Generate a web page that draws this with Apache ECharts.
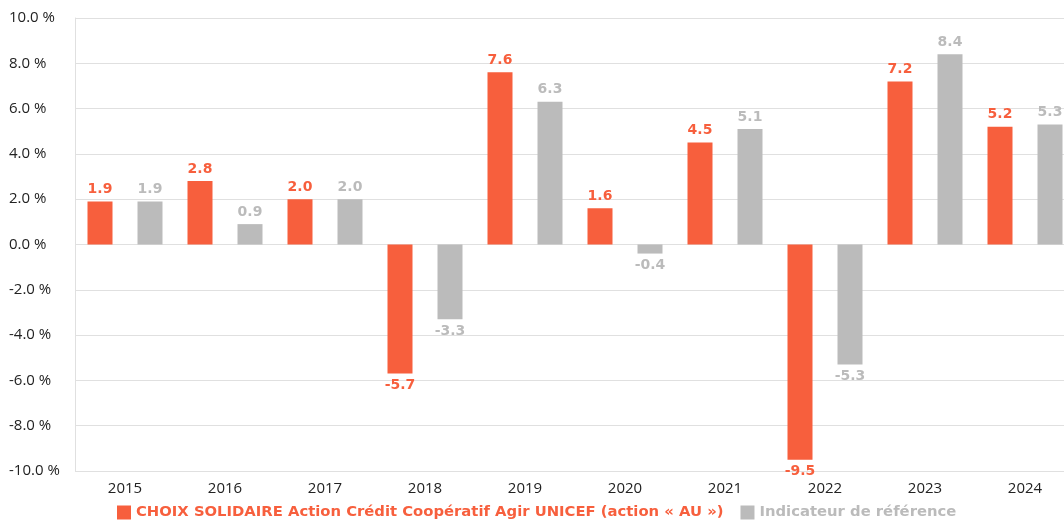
<!DOCTYPE html>
<html>
<head>
<meta charset="utf-8">
<script src="https://cdn.jsdelivr.net/npm/echarts@6/dist/echarts.min.js"></script>
<style>
  html, body { margin: 0; padding: 0; background: #fff; overflow: hidden; }
  #chart { width: 1075px; height: 521px; }
</style>
</head>
<body>
<div id="chart"></div>
<script>
const YEARS = ['2015', '2016', '2017', '2018', '2019', '2020', '2021', '2022', '2023', '2024'];
const FUND = [1.9, 2.8, 2.0, -5.7, 7.6, 1.6, 4.5, -9.5, 7.2, 5.2];
const INDEX = [1.9, 0.9, 2.0, -3.3, 6.3, -0.4, 5.1, -5.3, 8.4, 5.3];
const FUND_NAME = 'CHOIX SOLIDAIRE Action Crédit Coopératif Agir UNICEF (action « AU »)';
const INDEX_NAME = 'Indicateur de référence';

const ORANGE = '#f75f3d';
const GREY = '#bbbbbb';
const BOLD_FONT = 'DejaVu Sans';

// chart is a bit wider than the window: the last category is cut off on the right
const chart = echarts.init(document.getElementById('chart'));

function barSeries(name, data, color) {
  return {
    name: name,
    type: 'bar',
    data: data,
    barWidth: 25,
    barGap: '100%',
    itemStyle: { color: color },
    label: {
      show: true,
      position: 'outside',
      distance: 5,
      color: color,
      fontFamily: BOLD_FONT,
      fontWeight: 'bold',
      fontSize: 14,
      formatter: function (p) { return p.value.toFixed(1); }
    }
  };
}

const option = {
  animation: false,
  grid: { left: 75, top: 18, right: 0, bottom: 50, containLabel: false },
  legend: {
    bottom: -4,
    left: 112,
    itemWidth: 14,
    itemHeight: 14,
    itemGap: 17,
    icon: 'rect',
    textStyle: { fontFamily: BOLD_FONT, fontWeight: 'bold', fontSize: 14.8 },
    data: [
      { name: FUND_NAME, textStyle: { color: ORANGE } },
      { name: INDEX_NAME, textStyle: { color: GREY } }
    ]
  },
  xAxis: {
    type: 'category',
    data: YEARS,
    axisLine: { show: false, onZero: false },
    axisTick: { show: false },
    axisLabel: { color: '#222', fontFamily: 'Open Sans', fontSize: 15, margin: 10 }
  },
  yAxis: {
    type: 'value',
    min: -10,
    max: 10,
    interval: 2,
    axisLine: { show: true, lineStyle: { color: '#e0e0e0', width: 1 } },
    axisTick: { show: false },
    splitLine: { lineStyle: { color: '#e0e0e0', width: 1 } },
    axisLabel: {
      color: '#222',
      fontFamily: 'Open Sans',
      fontSize: 15,
      align: 'left',
      margin: 66,
      formatter: function (v) { return v.toFixed(1) + ' %'; }
    }
  },
  series: [
    barSeries(FUND_NAME, FUND, ORANGE),
    barSeries(INDEX_NAME, INDEX, GREY)
  ]
};

chart.setOption(option);
</script>
</body>
</html>
